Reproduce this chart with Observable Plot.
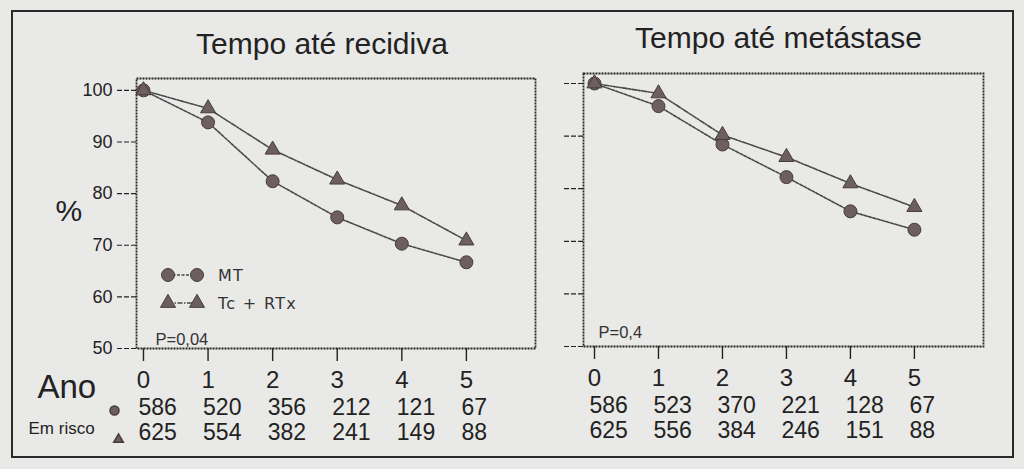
<!DOCTYPE html>
<html>
<head>
<meta charset="utf-8">
<script src="https://cdn.jsdelivr.net/npm/d3@7"></script>
<script src="https://cdn.jsdelivr.net/npm/@observablehq/plot@0.6"></script>
<style>
  html, body { margin: 0; padding: 0; background: #e9e9e7; }
  #wrap { position: relative; width: 1024px; height: 469px; overflow: hidden; background: #e9e9e7; }
  #wrap > svg { position: absolute; top: 0; }
  #box { position: absolute; left: 11px; top: 10px; width: 999px; height: 444px; border: 2.5px solid #2a2a2a; box-sizing: content-box; }
</style>
</head>
<body>
<div id="wrap"><div id="box"></div></div>
<script>
// ---- data ----
const years = [0, 1, 2, 3, 4, 5];
const yTicks = [50, 60, 70, 80, 90, 100];
const seriesNames = ["MT", "Tc + RTx"];
const titles = ["Tempo até recidiva", "Tempo até metástase"];
const pValues = ["P=0,04", "P=0,4"];
const recidivaMT = [100, 93.8, 82.4, 75.4, 70.3, 66.7];
const recidivaTc = [100, 96.5, 88.5, 82.7, 77.7, 70.9];
const metastaseMT = [100, 95.7, 88.4, 82.2, 75.7, 72.2];
const metastaseTc = [100, 98.1, 90.2, 86.0, 81.0, 76.5];
const riskRecMT = [586, 520, 356, 212, 121, 67];
const riskRecTc = [625, 554, 382, 241, 149, 88];
const riskMetMT = [586, 523, 370, 221, 128, 67];
const riskMetTc = [625, 556, 384, 246, 151, 88];
const yLabel = "%";
const xLabel = "Ano";
const riskLabel = "Em risco";

const INK = "#222";
const MARK = "#6d5f5f";
const MARK_STROKE = "#463c3c";
const LINE = "#4a4a4a";

function rows(a, b) {
  return years.flatMap((yr, i) => [
    {year: yr, value: a[i], s: seriesNames[0]},
    {year: yr, value: b[i], s: seriesNames[1]}
  ]);
}

function panel(opts) {
  const data = rows(opts.mt, opts.tc);
  const risk = years.map((yr, i) => ({year: yr, a: opts.ra[i], b: opts.rb[i]}));
  const marks = [
    Plot.frame({stroke: "#262626", strokeWidth: 1.8, strokeDasharray: "2,1"}),
    Plot.axisY({ticks: yTicks, tickSize: 21, tickPadding: 3, fontSize: 18,
      strokeDasharray: "5,2", strokeWidth: 1.2,
      tickFormat: opts.yLabels ? (d => String(d)) : (() => ""), label: null}),
    Plot.axisX({ticks: years, tickSize: 13, tickPadding: 9, fontSize: 24, label: null, strokeWidth: 1.4,
      tickFormat: d => String(d)}),
    Plot.line(data.filter(d => d.s === seriesNames[0]), {x: "year", y: "value", stroke: LINE, strokeWidth: 1.6, strokeDasharray: "3,1.5"}),
    Plot.line(data.filter(d => d.s === seriesNames[1]), {x: "year", y: "value", stroke: LINE, strokeWidth: 1.6, strokeDasharray: "5,1.5,1.5,1.5"}),
    Plot.dot(data.filter(d => d.s === seriesNames[0]), {x: "year", y: "value", symbol: "circle", r: 6.5, fill: MARK, stroke: MARK_STROKE, strokeWidth: 1}),
    Plot.dot(data.filter(d => d.s === seriesNames[1]), {x: "year", y: "value", symbol: "triangle", r: 5.6, fill: MARK, stroke: MARK_STROKE, strokeWidth: 1}),
    Plot.text([opts.title], {frameAnchor: "top", dx: opts.titleDx, dy: opts.titleDy, lineAnchor: "bottom", fontSize: 30, fill: INK}),
    Plot.text([opts.p], {frameAnchor: "bottom-left", dx: opts.pDx, dy: opts.pDy, lineAnchor: "bottom", textAnchor: "start", fontSize: 16.5, fill: "#333", style: "font-family: 'DejaVu Sans'; letter-spacing: 0.6px"}),
    Plot.text(risk, {x: "year", text: "a", frameAnchor: "bottom", dy: 66, dx: -5, lineAnchor: "bottom", textAnchor: "start", fontSize: 23, fill: INK}),
    Plot.text(risk, {x: "year", text: "b", frameAnchor: "bottom", dy: 91, dx: -5, lineAnchor: "bottom", textAnchor: "start", fontSize: 23, fill: INK})
  ];
  if (opts.yLabels) {
    marks.push(
      Plot.text([yLabel], {frameAnchor: "left", y: () => 76.5, dx: -81, fontSize: 30, fill: INK}),
      Plot.text([xLabel], {frameAnchor: "bottom-left", dx: -99, dy: 49, lineAnchor: "bottom", textAnchor: "start", fontSize: 33, fill: INK}),
      Plot.text([riskLabel], {frameAnchor: "bottom-left", dx: -108, dy: 85, lineAnchor: "bottom", textAnchor: "start", fontSize: 17, fill: INK}),
      Plot.dot([seriesNames[0]], {frameAnchor: "bottom-left", dx: -22, dy: 62, symbol: "circle", r: 4.5, fill: MARK, stroke: MARK_STROKE}),
      Plot.dot([seriesNames[1]], {frameAnchor: "bottom-left", dx: -18, dy: 91, symbol: "triangle", r: 3.6, fill: MARK, stroke: MARK_STROKE})
    );
  }
  return Plot.plot({
    width: opts.width, height: 469,
    marginLeft: opts.ml, marginRight: opts.mr, marginTop: opts.mt0, marginBottom: opts.mb,
    x: {domain: opts.xd, axis: null},
    y: {domain: opts.yd, axis: null},
    style: {background: "transparent", color: INK, fontFamily: "'Liberation Sans', Arial, sans-serif", overflow: "visible"},
    marks
  });
}

const left = panel({
  width: 540, ml: 136, mr: 5, mt0: 78, mb: 121,
  xd: [-0.108, 6.07], yd: [50, 102.3],
  mt: recidivaMT, tc: recidivaTc, ra: riskRecMT, rb: riskRecTc,
  title: titles[0], titleDx: -14, titleDy: -25,
  p: pValues[0], pDx: 19, pDy: -4, yLabels: true
});
const right = panel({
  width: 484, ml: 43, mr: 41, mt0: 73, mb: 123,
  xd: [-0.172, 6.08], yd: [50, 101.9],
  mt: metastaseMT, tc: metastaseTc, ra: riskMetMT, rb: riskMetTc,
  title: titles[1], titleDx: -5, titleDy: -26,
  p: pValues[1], pDx: 15, pDy: -9, yLabels: false
});
left.style.left = "0px";
right.style.left = "540px";
const wrap = document.getElementById("wrap");
wrap.appendChild(left);
wrap.appendChild(right);

// legend (inside left panel)
const lg = d3.create("svg").attr("width", 170).attr("height", 60)
  .style("position", "absolute").style("left", "150px").style("top", "260px");
const sym = [d3.symbolCircle, d3.symbolTriangle];
const rr = [6.5, 5.6];
const dash = ["3,1.5", "5,1.5,1.5,1.5"];
seriesNames.forEach((name, i) => {
  const g = lg.append("g").attr("transform", `translate(0,${15 + i * 28})`);
  g.append("line").attr("x1", 18).attr("x2", 47).attr("stroke", LINE).attr("stroke-width", 1.6).attr("stroke-dasharray", dash[i]);
  [18, 47].forEach(x => g.append("path").attr("transform", `translate(${x},0)`)
    .attr("d", d3.symbol(sym[i], Math.PI * rr[i] * rr[i])()).attr("fill", MARK).attr("stroke", MARK_STROKE));
  g.append("text").attr("x", 68).attr("y", 5.5).text(name)
    .attr("font-family", "'DejaVu Sans'").attr("font-size", 16).attr("letter-spacing", "1.3px").attr("fill", "#333");
});
wrap.appendChild(lg.node());
</script>
</body>
</html>
